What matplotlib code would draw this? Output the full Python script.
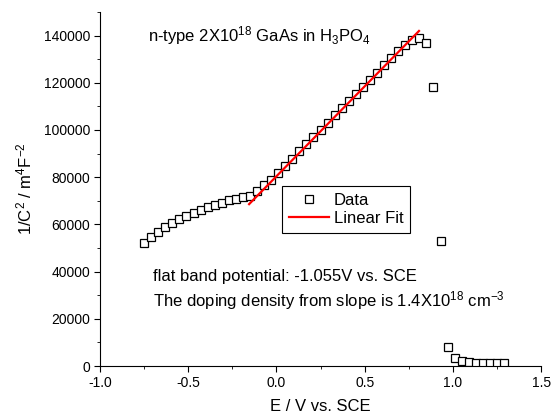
import numpy as np
import matplotlib
matplotlib.use("Agg")
import matplotlib.pyplot as plt

plt.rcParams["font.family"] = ["Liberation Sans", "DejaVu Sans"]
plt.rcParams["mathtext.fontset"] = "custom"
plt.rcParams["mathtext.rm"] = "Liberation Sans"
plt.rcParams["mathtext.it"] = "Liberation Sans:italic"

#-Data--------------------------------------------------------------------------#
E = [-0.75, -0.71, -0.67, -0.63, -0.59, -0.55, -0.51, -0.47, -0.43, -0.39,
     -0.35, -0.31, -0.27, -0.23, -0.19, -0.15, -0.11, -0.07, -0.03, 0.01,
     0.05, 0.09, 0.13, 0.17, 0.21, 0.25, 0.29, 0.33, 0.37, 0.41,
     0.45, 0.49, 0.53, 0.57, 0.61, 0.65, 0.69, 0.73, 0.77, 0.81,
     0.85, 0.89, 0.93, 0.97, 1.01, 1.05, 1.09, 1.13, 1.17, 1.21,
     1.25, 1.29]
invC2 = [52200, 54700, 56900, 59000, 60700, 62400, 63600, 64900, 66200, 67500,
         68300, 69200, 70400, 70900, 71700, 72100, 74200, 76800, 78700, 81750,
         84800, 87850, 90900, 93950, 97000, 100050, 103100, 106150, 109200, 112250,
         115200, 118250, 121300, 124350, 127400, 130350, 133300, 136000, 138300, 139100,
         137000, 118300, 53000, 8000, 3600, 2200, 1700, 1300, 1200, 1200,
         1200, 1200]

# linear fit parameters (slope in m^4F^-2 per V, flat band potential in V)
fit_slope = 76200
flat_band = -1.055
fit_range = [-0.155, 0.808]

#-Plot--------------------------------------------------------------------------#
fig = plt.figure(figsize=(5.51, 4.18), dpi=100)
ax = fig.add_axes([0.1815, 0.1244, 0.8005, 0.8469])

ax.plot(E, invC2, "s", ms=5.2, mfc="white", mec="black", mew=0.9, label="Data")
xf = np.array(fit_range)
ax.plot(xf, fit_slope * (xf - flat_band), "-", color="red", lw=1.6, label="Linear Fit")

ax.set_xlim(-1.0, 1.5)
ax.set_ylim(0, 150000)
ax.set_xticks([-1.0, -0.5, 0.0, 0.5, 1.0, 1.5])
ax.set_xticklabels(["-1.0", "-0.5", "0.0", "0.5", "1.0", "1.5"])
ax.set_yticks(np.arange(0, 140001, 20000))
ax.set_xticks(np.arange(-1.0, 1.51, 0.25), minor=True)
ax.set_yticks(np.arange(0, 150001, 10000), minor=True)
ax.tick_params(which="both", direction="out", labelsize=10)
ax.tick_params(which="major", length=4, pad=3)
ax.tick_params(which="minor", length=2.5)

for s in ["top", "right"]:
    ax.spines[s].set_visible(False)

ax.set_xlabel("E / V vs. SCE", fontsize=12, labelpad=7)
ax.set_ylabel("1/C$^2$ / m$^4$F$^{-2}$", fontsize=12, labelpad=7)

ax.text(-0.73, 140000, "n-type 2X10$^{18}$ GaAs in H$_3$PO$_4$", fontsize=12, va="center")
ax.text(-0.70, 37800, "flat band potential: -1.055V vs. SCE", fontsize=12, va="center")
ax.text(-0.70, 27600, "The doping density from slope is 1.4X10$^{18}$ cm$^{-3}$", fontsize=12, va="center")

leg = ax.legend(loc="upper left", bbox_to_anchor=(0.413, 0.508), fontsize=12,
                fancybox=False, framealpha=1, edgecolor="black", handlelength=2.4,
                handletextpad=0.3, borderpad=0.4, labelspacing=0.2, borderaxespad=0)
leg.get_frame().set_linewidth(0.8)

fig.savefig("out.png", dpi=100)
